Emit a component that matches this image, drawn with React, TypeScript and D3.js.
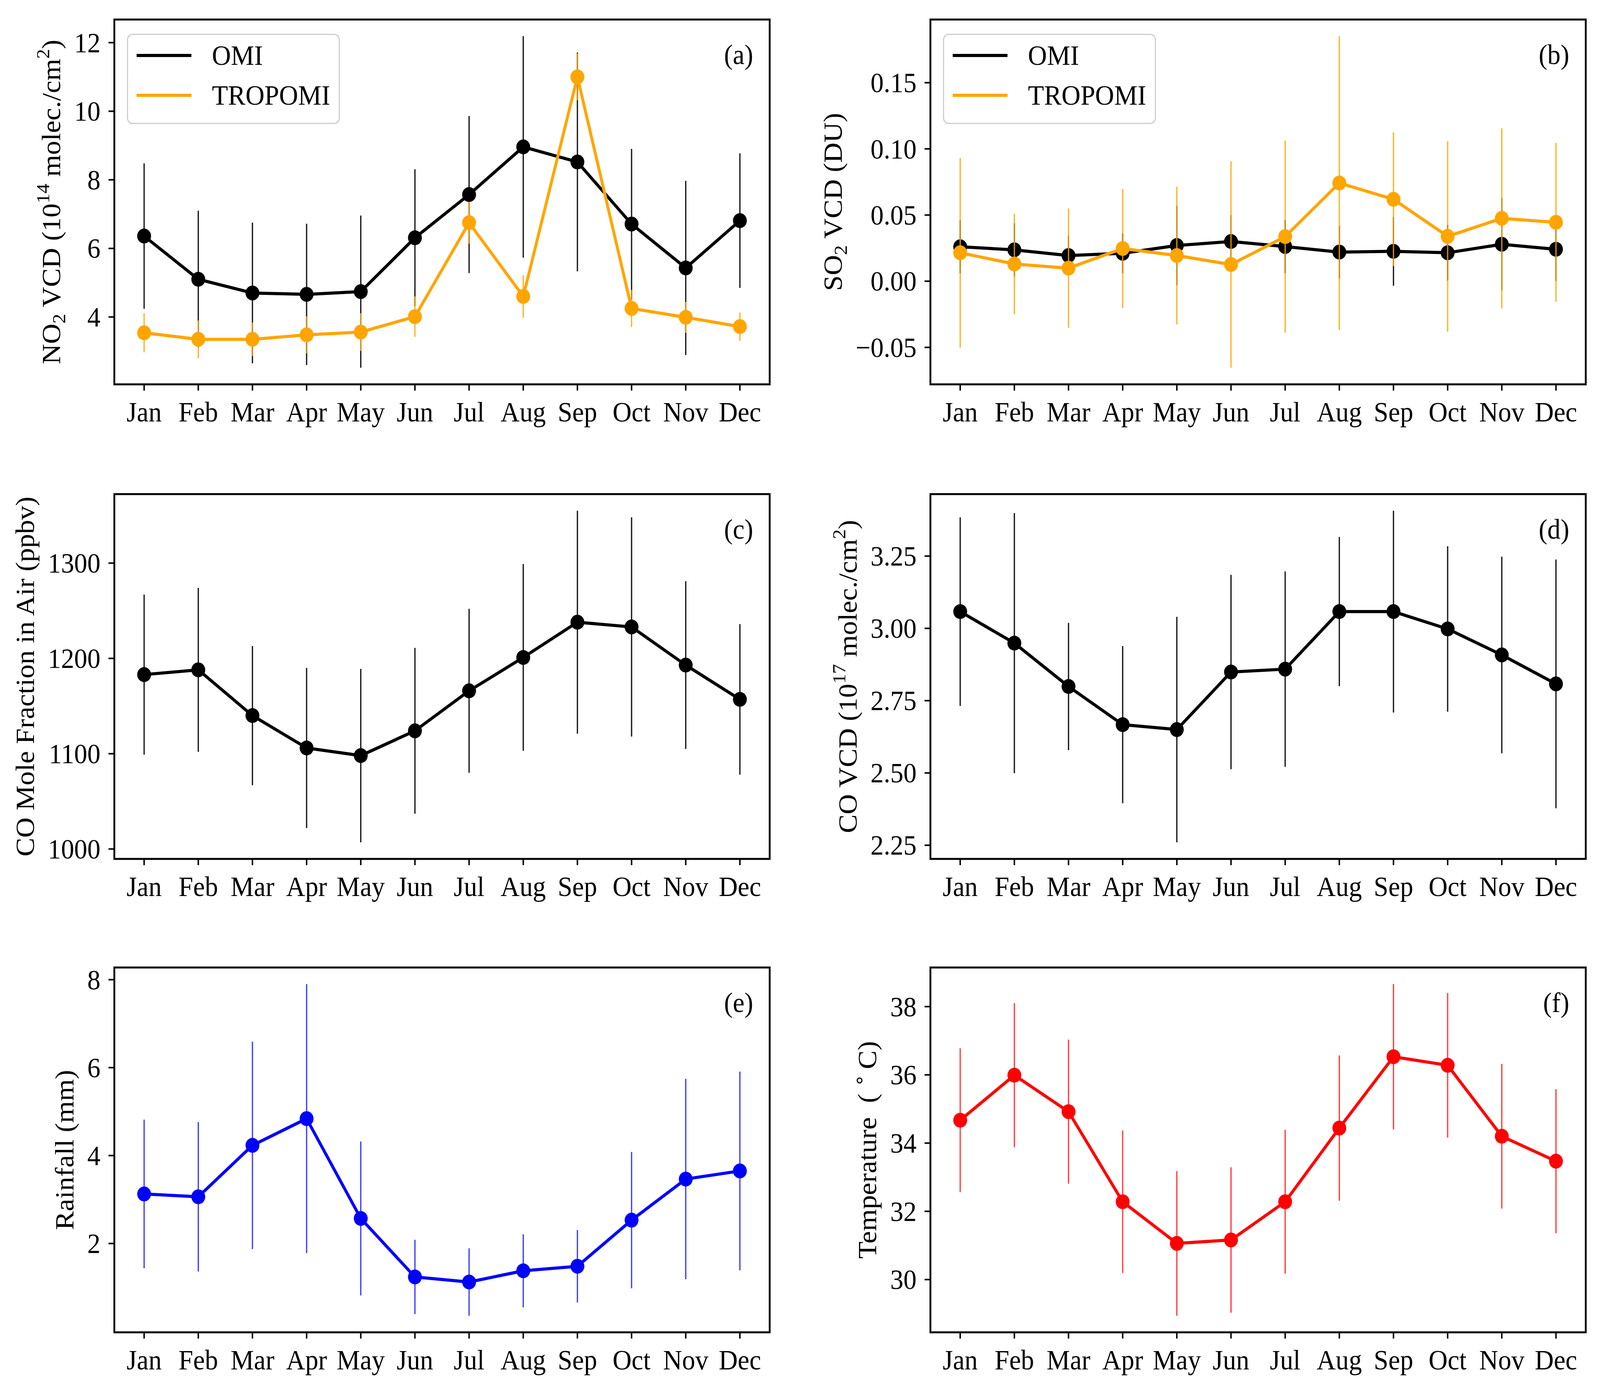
import React, { useEffect, useRef } from 'react';
import * as d3 from 'd3';

const W = 4380;
const H = 3551;
const FONT = '"Liberation Serif", "Times New Roman", serif';
const FS = 72;

// --- data (monthly mean and standard deviation) ---
const months = ['Jan', 'Feb', 'Mar', 'Apr', 'May', 'Jun', 'Jul', 'Aug', 'Sep', 'Oct', 'Nov', 'Dec'];

const no2OmiMean = [6.36, 5.10, 4.70, 4.66, 4.74, 6.31, 7.57, 8.96, 8.52, 6.71, 5.43, 6.81];
const no2OmiStd = [2.12, 2.00, 2.05, 2.06, 2.22, 2.00, 2.29, 3.23, 3.19, 2.19, 2.54, 1.96];
const no2TropMean = [3.54, 3.35, 3.35, 3.48, 3.56, 4.01, 6.75, 4.60, 11.0, 4.25, 3.99, 3.72];
const no2TropStd = [0.57, 0.55, 0.49, 0.54, 0.55, 0.59, 0.61, 0.62, 0.68, 0.54, 0.45, 0.41];

const so2OmiMean = [0.026, 0.0237, 0.0194, 0.0211, 0.027, 0.030, 0.0262, 0.022, 0.0226, 0.0215, 0.0279, 0.0241];
const so2OmiStd = [0.02, 0.02, 0.015, 0.015, 0.03, 0.02, 0.02, 0.02, 0.026, 0.021, 0.035, 0.024];
const so2TropMean = [0.0215, 0.013, 0.0099, 0.0247, 0.0194, 0.0126, 0.0337, 0.0742, 0.0619, 0.0339, 0.0475, 0.0445];
const so2TropStd = [0.0716, 0.038, 0.045, 0.045, 0.052, 0.078, 0.0725, 0.111, 0.0505, 0.072, 0.068, 0.06];

const coMixMean = [1183, 1188, 1140, 1106, 1098, 1124, 1166, 1201, 1238, 1233, 1193, 1157];
const coMixStd = [84, 86, 73, 84, 91, 87, 86, 98, 117, 115, 88, 79];

const coVcdMean = [3.058, 2.949, 2.799, 2.667, 2.650, 2.849, 2.859, 3.058, 3.058, 2.998, 2.908, 2.808];
const coVcdStd = [0.326, 0.45, 0.22, 0.272, 0.39, 0.336, 0.338, 0.258, 0.349, 0.286, 0.34, 0.43];

const rainMean = [3.126, 3.062, 4.232, 4.84, 2.569, 1.239, 1.124, 1.379, 1.482, 2.531, 3.465, 3.65];
const rainStd = [1.69, 1.70, 2.36, 3.06, 1.75, 0.845, 0.767, 0.83, 0.825, 1.55, 2.28, 2.26];

const tempMean = [34.67, 35.99, 34.92, 32.28, 31.06, 31.16, 32.28, 34.44, 36.53, 36.28, 34.20, 33.47];
const tempStd = [2.11, 2.11, 2.11, 2.09, 2.12, 2.13, 2.11, 2.13, 2.13, 2.12, 2.12, 2.11];

const no2Ticks = [4, 6, 8, 10, 12];
const so2Ticks = [-0.05, 0, 0.05, 0.10, 0.15];
const coMixTicks = [1000, 1100, 1200, 1300];
const coVcdTicks = [2.25, 2.50, 2.75, 3.00, 3.25];
const rainTicks = [2, 4, 6, 8];
const tempTicks = [30, 32, 34, 36, 38];

// --- layout ---
const COL_X = [313, 2547];
const ROW_Y = [50, 1265, 2477];
const PW = 1794;
const PH = 934;

type Part = { t: string; s?: 'sub' | 'sup' };
interface Series { name: string; mean: number[]; std: number[]; color: string; errOpacity: number }
interface PanelDef {
  tag: string; x: number; y: number; label: Part[];
  ticks: number[]; fmt: (v: number) => string; series: Series[]; legend: boolean;
}

const intFmt = d3.format('d');
const twoFmt = (v: number) => d3.format('.2f')(v).replace('-', '\u2212');

const panels: PanelDef[] = [
  {
    tag: '(a)', x: COL_X[0], y: ROW_Y[0],
    label: [{ t: 'NO' }, { t: '2', s: 'sub' }, { t: ' VCD (10' }, { t: '14', s: 'sup' }, { t: ' molec./cm' }, { t: '2', s: 'sup' }, { t: ')' }],
    ticks: no2Ticks, fmt: intFmt, legend: true,
    series: [
      { name: 'OMI', mean: no2OmiMean, std: no2OmiStd, color: '#000000', errOpacity: 0.9 },
      { name: 'TROPOMI', mean: no2TropMean, std: no2TropStd, color: '#FFA500', errOpacity: 0.85 },
    ],
  },
  {
    tag: '(b)', x: COL_X[1], y: ROW_Y[0],
    label: [{ t: 'SO' }, { t: '2', s: 'sub' }, { t: ' VCD (DU)' }],
    ticks: so2Ticks, fmt: twoFmt, legend: true,
    series: [
      { name: 'OMI', mean: so2OmiMean, std: so2OmiStd, color: '#000000', errOpacity: 0.9 },
      { name: 'TROPOMI', mean: so2TropMean, std: so2TropStd, color: '#FFA500', errOpacity: 0.85 },
    ],
  },
  {
    tag: '(c)', x: COL_X[0], y: ROW_Y[1],
    label: [{ t: 'CO Mole Fraction in Air (ppbv)' }],
    ticks: coMixTicks, fmt: intFmt, legend: false,
    series: [{ name: 'CO', mean: coMixMean, std: coMixStd, color: '#000000', errOpacity: 0.9 }],
  },
  {
    tag: '(d)', x: COL_X[1], y: ROW_Y[1],
    label: [{ t: 'CO VCD (10' }, { t: '17', s: 'sup' }, { t: ' molec./cm' }, { t: '2', s: 'sup' }, { t: ')' }],
    ticks: coVcdTicks, fmt: twoFmt, legend: false,
    series: [{ name: 'CO', mean: coVcdMean, std: coVcdStd, color: '#000000', errOpacity: 0.9 }],
  },
  {
    tag: '(e)', x: COL_X[0], y: ROW_Y[2],
    label: [{ t: 'Rainfall (mm)' }],
    ticks: rainTicks, fmt: intFmt, legend: false,
    series: [{ name: 'Rainfall', mean: rainMean, std: rainStd, color: '#0000FF', errOpacity: 0.75 }],
  },
  {
    tag: '(f)', x: COL_X[1], y: ROW_Y[2],
    label: [{ t: 'Temperature  ( ' }, { t: '\u2218 ', s: 'sup' }, { t: 'C)' }],
    ticks: tempTicks, fmt: intFmt, legend: false,
    series: [{ name: 'Temperature', mean: tempMean, std: tempStd, color: '#FF0000', errOpacity: 0.75 }],
  },
];

// rough width of a tick label in Times metrics
const charW = (c: string) => (c === '.' ? 0.25 : c === '\u2212' ? 0.564 : 0.5);
const textW = (s: string) => s.split('').reduce((a, c) => a + charW(c), 0) * FS;

function drawPanel(svg: d3.Selection<SVGSVGElement, unknown, null, undefined>, p: PanelDef) {
  const g = svg.append('g').attr('transform', `translate(${p.x},${p.y})`);

  const x = d3.scalePoint<string>().domain(months).range([0, PW]).padding(0.55);
  // matplotlib-style autoscale: data extent incl. error bars + 5% margin
  const lo = d3.min(p.series, s => d3.min(s.mean, (m, i) => m - s.std[i])) as number;
  const hi = d3.max(p.series, s => d3.max(s.mean, (m, i) => m + s.std[i])) as number;
  const pad = (hi - lo) * 0.05;
  const y = d3.scaleLinear().domain([lo - pad, hi + pad]).range([PH, 0]);

  const line = d3.line<number>().x((_, i) => x(months[i]) as number).y(d => y(d));

  p.series.forEach(s => {
    g.append('g').selectAll('line')
      .data(s.mean)
      .join('line')
      .attr('x1', (_, i) => x(months[i]) as number)
      .attr('x2', (_, i) => x(months[i]) as number)
      .attr('y1', (d, i) => y(d - s.std[i]))
      .attr('y2', (d, i) => y(d + s.std[i]))
      .attr('stroke', s.color)
      .attr('stroke-width', 3.5)
      .attr('opacity', s.errOpacity);

    g.append('path')
      .datum(s.mean)
      .attr('d', line)
      .attr('fill', 'none')
      .attr('stroke', s.color)
      .attr('stroke-width', 8)
      .attr('stroke-linejoin', 'round');

    g.append('g').selectAll('circle')
      .data(s.mean)
      .join('circle')
      .attr('cx', (_, i) => x(months[i]) as number)
      .attr('cy', d => y(d))
      .attr('r', 19)
      .attr('fill', s.color);
  });

  // frame
  g.append('rect')
    .attr('width', PW).attr('height', PH)
    .attr('fill', 'none').attr('stroke', '#000').attr('stroke-width', 5);

  // x ticks
  const xt = g.append('g').attr('transform', `translate(0,${PH})`);
  months.forEach(m => {
    const xx = x(m) as number;
    xt.append('line').attr('x1', xx).attr('x2', xx).attr('y1', 0).attr('y2', 16)
      .attr('stroke', '#000').attr('stroke-width', 4);
    xt.append('text').attr('x', xx).attr('y', 95)
      .attr('text-anchor', 'middle').attr('font-family', FONT).attr('font-size', FS)
      .text(m);
  });

  // y ticks
  p.ticks.forEach(t => {
    const yy = y(t);
    g.append('line').attr('x1', -16).attr('x2', 0).attr('y1', yy).attr('y2', yy)
      .attr('stroke', '#000').attr('stroke-width', 4);
    g.append('text').attr('x', -38).attr('y', yy).attr('dy', '0.34em')
      .attr('text-anchor', 'end').attr('font-family', FONT).attr('font-size', FS)
      .text(p.fmt(t));
  });

  // y label
  const maxW = d3.max(p.ticks, t => textW(p.fmt(t))) as number;
  const bx = -38 - maxW - 24 - 0.2 * FS;
  const lab = g.append('text')
    .attr('transform', `translate(${bx},${PH / 2}) rotate(-90)`)
    .attr('text-anchor', 'middle')
    .attr('font-family', FONT).attr('font-size', FS)
    .style('white-space', 'pre');
  let off = 0;
  p.label.forEach(part => {
    const target = part.s === 'sub' ? 0.2 * FS : part.s === 'sup' ? -0.42 * FS : 0;
    lab.append('tspan')
      .attr('dy', target - off)
      .attr('font-size', part.s ? FS * 0.7 : FS)
      .text(part.t);
    off = target;
  });

  // panel tag
  g.append('text').attr('x', PW - 45).attr('y', 114)
    .attr('text-anchor', 'end').attr('font-family', FONT).attr('font-size', FS)
    .text(p.tag);

  // legend
  if (p.legend) {
    const lg = g.append('g').attr('transform', 'translate(36,38)');
    lg.append('rect').attr('width', 580).attr('height', 228).attr('rx', 14)
      .attr('fill', '#fff').attr('fill-opacity', 0.8)
      .attr('stroke', '#cccccc').attr('stroke-width', 3);
    p.series.forEach((s, i) => {
      const ly = 54 + i * 102;
      lg.append('line').attr('x1', 25).attr('x2', 175).attr('y1', ly).attr('y2', ly)
        .attr('stroke', s.color).attr('stroke-width', 8);
      lg.append('text').attr('x', 231).attr('y', ly).attr('dy', '0.34em')
        .attr('font-family', FONT).attr('font-size', FS)
        .text(s.name);
    });
  }
}

export default function App() {
  const svgRef = useRef<SVGSVGElement>(null);

  useEffect(() => {
    document.body.style.margin = '0';
    document.body.style.overflow = 'hidden';
    if (!svgRef.current) return;
    const svg = d3.select(svgRef.current);
    svg.selectAll('*').remove();
    svg.append('rect').attr('width', W).attr('height', H).attr('fill', '#fff');
    panels.forEach(p => drawPanel(svg, p));
  }, []);

  // fill the whole viewport so the figure maps onto the full frame
  return (
    <svg
      ref={svgRef}
      viewBox={`0 0 ${W} ${H}`}
      preserveAspectRatio="none"
      style={{ position: 'absolute', left: 0, top: 0, display: 'block', width: '100vw', height: '100vh' }}
    />
  );
}
